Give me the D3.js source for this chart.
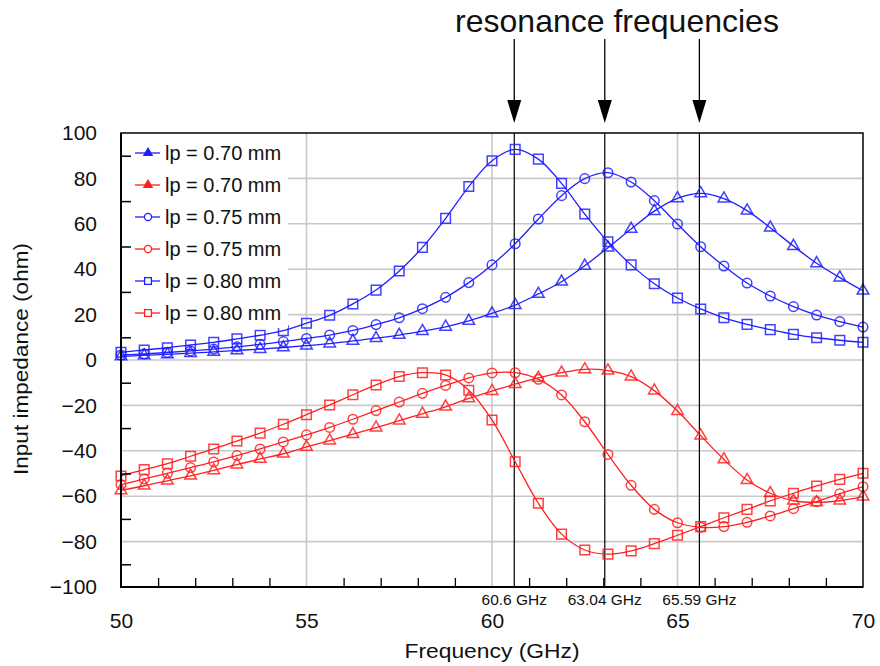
<!DOCTYPE html>
<html>
<head>
<meta charset="utf-8">
<script src="https://cdn.jsdelivr.net/npm/d3@7"></script>
<style>
  html, body { margin: 0; padding: 0; background: #fff; }
  svg text { font-family: "Liberation Sans", Arial, sans-serif; fill: #111; }
</style>
</head>
<body>
<svg id="chart" width="880" height="666"></svg>
<script>
// Frequency sample points (GHz)
const freq = [50, 50.625, 51.25, 51.875, 52.5, 53.125, 53.75, 54.375, 55, 55.625,
  56.25, 56.875, 57.5, 58.125, 58.75, 59.375, 60, 60.625, 61.25, 61.875, 62.5,
  63.125, 63.75, 64.375, 65, 65.625, 66.25, 66.875, 67.5, 68.125, 68.75, 69.375, 70];

// Real part (blue) and imaginary part (red) of the input impedance, ohm
const re070 = [1.6, 2.0, 2.5, 3.0, 3.6, 4.2, 4.8, 5.5, 6.3, 7.2, 8.4, 9.6, 11.0, 12.7, 14.6,
  17.2, 20.5, 24.2, 29.1, 34.5, 41.5, 49.5, 57.7, 65.6, 71.2, 73.4, 71.1, 65.8, 58.3, 50.2,
  42.6, 36.3, 30.5];
const im070 = [-57.4, -55.4, -53.2, -51.0, -48.6, -46.1, -43.6, -41.3, -38.3, -35.5, -32.7,
  -29.8, -26.7, -23.7, -20.6, -16.9, -13.7, -10.6, -7.9, -5.6, -4.1, -4.7, -7.3, -13.5,
  -22.5, -33.3, -43.8, -52.9, -58.7, -62.0, -62.7, -62.0, -60.2];
const re075 = [2.2, 2.7, 3.3, 4.0, 4.8, 5.8, 6.9, 8.1, 9.5, 11.0, 13.0, 15.6, 18.6, 22.6,
  27.6, 34.1, 41.9, 51.2, 62.1, 72.4, 79.9, 82.5, 78.4, 70.2, 59.9, 49.9, 41.4, 33.9, 28.2,
  23.5, 19.8, 16.9, 14.5];
const im075 = [-54.9, -52.4, -49.9, -47.4, -44.9, -42.1, -39.2, -36.1, -33.0, -29.7, -26.1,
  -22.3, -18.5, -14.7, -11.2, -7.9, -5.7, -5.6, -8.5, -15.4, -27.2, -41.6, -55.2, -65.8,
  -71.7, -73.7, -73.4, -71.5, -68.7, -65.5, -62.4, -58.9, -55.8];
const re080 = [3.4, 4.4, 5.4, 6.6, 7.8, 9.3, 10.9, 12.9, 16.2, 19.7, 24.7, 30.8, 39.2, 49.6,
  62.4, 76.4, 87.8, 92.8, 88.5, 77.8, 64.3, 52.1, 41.9, 33.6, 27.3, 22.5, 18.6, 15.7, 13.4,
  11.3, 9.8, 8.7, 7.8];
const im080 = [-51.1, -48.3, -45.7, -42.4, -39.2, -35.7, -32.2, -28.3, -24.1, -19.8, -15.3,
  -11.0, -7.3, -5.6, -6.6, -13.3, -26.4, -44.8, -63.1, -76.7, -83.7, -85.5, -84.1, -80.9,
  -77.2, -73.4, -69.5, -65.8, -62.1, -58.7, -55.5, -52.6, -49.9];

const seriesNames = ["lp = 0.70 mm", "lp = 0.70 mm", "lp = 0.75 mm", "lp = 0.75 mm", "lp = 0.80 mm", "lp = 0.80 mm"];
const seriesValues = [re070, im070, re075, im075, re080, im080];
const seriesColors = ["#2020ff", "#ff2020", "#2020ff", "#ff2020", "#2020ff", "#ff2020"];
const seriesMarkers = ["triangle", "triangle", "circle", "circle", "square", "square"];

// Resonance frequencies (GHz)
const resonance = [60.6, 63.04, 65.59];
const resonanceLabels = ["60.6 GHz", "63.04 GHz", "65.59 GHz"];

const xTicks = [50, 55, 60, 65, 70];
const xMinor = [51, 52, 53, 54, 56, 57, 58, 59, 61, 62, 63, 64, 66, 67, 68, 69];
const xGrid = [55, 60, 65];
const yTicks = [-100, -80, -60, -40, -20, 0, 20, 40, 60, 80, 100];
const yMinor = [-90, -70, -50, -30, -10, 10, 30, 50, 70, 90];
const yGrid = [-80, -60, -40, -20, 0, 20, 40, 60, 80];

const L = 121, R = 863, T = 133, B = 587;
const svg = d3.select("#chart");
const x = d3.scaleLinear().domain([50, 70]).range([L, R]);
const y = d3.scaleLinear().domain([-100, 100]).range([B, T]);

// grid
const grid = svg.append("g").attr("stroke", "#c9c9c9").attr("stroke-width", 1.6);
grid.selectAll("line.v").data(xGrid).join("line")
  .attr("x1", d => x(d)).attr("x2", d => x(d)).attr("y1", T).attr("y2", B);
grid.selectAll("line.h").data(yGrid).join("line")
  .attr("x1", L).attr("x2", R).attr("y1", d => y(d)).attr("y2", d => y(d));

// resonance markers inside the plot
svg.append("g").selectAll("line").data(resonance).join("line")
  .attr("x1", d => x(d)).attr("x2", d => x(d)).attr("y1", T).attr("y2", B)
  .attr("stroke", "#000").attr("stroke-width", 1.2);

// curves
const line = d3.line().x((d, i) => x(freq[i])).y(d => y(d)).curve(d3.curveCatmullRom.alpha(0.5));
const symbolType = { triangle: d3.symbolTriangle, circle: d3.symbolCircle, square: d3.symbolSquare };
const symbolSize = { triangle: 58, circle: 72, square: 92 };

seriesValues.forEach((vals, s) => {
  const g = svg.append("g");
  g.append("path").attr("d", line(vals)).attr("fill", "none")
    .attr("stroke", seriesColors[s]).attr("stroke-width", 1.3);
  const sym = d3.symbol().type(symbolType[seriesMarkers[s]]).size(symbolSize[seriesMarkers[s]]);
  g.selectAll("path.m").data(vals).join("path").attr("class", "m")
    .attr("d", sym)
    .attr("transform", (d, i) => `translate(${x(freq[i])},${y(d)})`)
    .attr("fill", "none").attr("stroke", seriesColors[s]).attr("stroke-width", 1.5)
    .attr("stroke-opacity", 0.85);
});

// legend
const lg = svg.append("g");
lg.append("rect").attr("x", L + 1).attr("y", 137).attr("width", 166).attr("height", 191).attr("fill", "#fff");
seriesNames.forEach((name, s) => {
  const cy = 153 + s * 32;
  lg.append("line").attr("x1", 135).attr("x2", 160).attr("y1", cy).attr("y2", cy)
    .attr("stroke", seriesColors[s]).attr("stroke-width", 1.3);
  const m = seriesMarkers[s];
  const sym = d3.symbol().type(symbolType[m]).size(m === "triangle" ? 30 : m === "circle" ? 40 : 46);
  lg.append("path").attr("d", sym).attr("transform", `translate(148,${cy})`)
    .attr("fill", m === "triangle" ? seriesColors[s] : "#fff")
    .attr("stroke", seriesColors[s]).attr("stroke-width", 1.3);
  lg.append("text").attr("x", 165).attr("y", cy).attr("dy", "0.35em")
    .attr("font-size", 20).text(name);
});

// inward minor ticks
svg.append("g").attr("transform", `translate(${L},0)`)
  .call(d3.axisRight(y).tickValues(yMinor).tickSize(10).tickFormat(""))
  .call(g => g.select(".domain").remove())
  .selectAll("line").attr("stroke", "#000").attr("stroke-width", 1.5);
svg.append("g").attr("transform", `translate(0,${B})`)
  .call(d3.axisTop(x).tickValues(xMinor).tickSize(9).tickFormat(""))
  .call(g => g.select(".domain").remove())
  .selectAll("line").attr("stroke", "#000").attr("stroke-width", 1.3);

// frame
svg.append("rect").attr("x", L).attr("y", T).attr("width", R - L).attr("height", B - T)
  .attr("fill", "none").attr("stroke", "#000").attr("stroke-width", 1.5);
svg.append("path").attr("d", `M${L},${T}V${B}H${R}`).attr("fill", "none")
  .attr("stroke", "#000").attr("stroke-width", 2);

// tick labels
svg.append("g").attr("transform", `translate(${L},0)`)
  .call(d3.axisLeft(y).tickValues(yTicks).tickSize(0).tickPadding(24).tickFormat(d3.format("d")))
  .call(g => g.select(".domain").remove())
  .selectAll("text").attr("font-size", 21).attr("font-family", "Liberation Sans, Arial, sans-serif").attr("fill", "#111");
svg.append("g").attr("transform", `translate(0,${B})`)
  .call(d3.axisBottom(x).tickValues(xTicks).tickSize(0).tickPadding(26).tickFormat(d3.format("d")))
  .call(g => g.select(".domain").remove())
  .selectAll("text").attr("font-size", 21).attr("font-family", "Liberation Sans, Arial, sans-serif").attr("fill", "#111");

// resonance labels under the axis
svg.append("g").selectAll("text").data(resonance).join("text")
  .attr("x", d => x(d)).attr("y", 605).attr("text-anchor", "middle")
  .attr("font-size", 15.5).text((d, i) => resonanceLabels[i]);

// axis titles
svg.append("text").attr("x", 492).attr("y", 658).attr("text-anchor", "middle")
  .attr("font-size", 21).attr("textLength", 175).attr("lengthAdjust", "spacingAndGlyphs")
  .text("Frequency (GHz)");
svg.append("text").attr("transform", `translate(28,359) rotate(-90)`)
  .attr("text-anchor", "middle").attr("font-size", 21)
  .attr("textLength", 232).attr("lengthAdjust", "spacingAndGlyphs")
  .text("Input impedance (ohm)");

// annotation: title and arrows
svg.append("text").attr("x", 617).attr("y", 32).attr("text-anchor", "middle")
  .attr("font-size", 32).text("resonance frequencies");
const arrows = svg.append("g").selectAll("g").data(resonance).join("g")
  .attr("transform", d => `translate(${x(d)},0)`);
arrows.append("line").attr("x1", 0).attr("x2", 0).attr("y1", 39).attr("y2", 102)
  .attr("stroke", "#000").attr("stroke-width", 1.3);
arrows.append("path").attr("d", "M-7,100L7,100L0,123Z").attr("fill", "#000");
</script>
</body>
</html>
